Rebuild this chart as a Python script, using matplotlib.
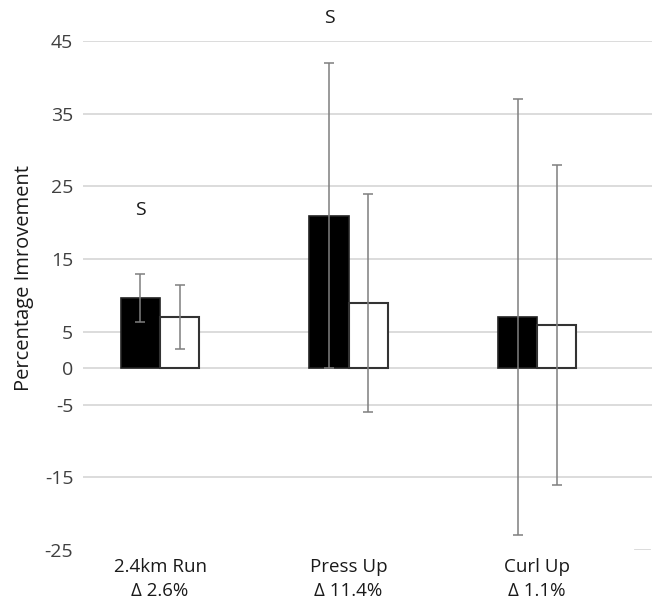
import matplotlib
matplotlib.use("Agg")
import matplotlib.pyplot as plt
import numpy as np

categories = ["2.4km Run\nΔ 2.6%", "Press Up\nΔ 11.4%", "Curl Up\nΔ 1.1%"]
black_vals = [9.6, 21.0, 7.0]
black_err = [3.3, 21.0, 30.0]
white_vals = [7.0, 9.0, 6.0]
white_err = [4.4, 15.0, 22.0]
y_ticks = [45, 35, 25, 15, 5, 0, -5, -15, -25]
sig_labels = ["S", "S", ""]
sig_heights = [21.7, 48.1, None]

plt.rcParams['font.family'] = ['Open Sans', 'DejaVu Sans']

fig = plt.figure(figsize=(6.52, 6.02), dpi=100)
ax = fig.add_axes([83/652, 52/602, 569/652, 509/602])

x = np.arange(len(categories))
w = 0.207
ax.bar(x - w/2, black_vals, w, color='black', edgecolor='#222222', linewidth=1.2, zorder=3)
ax.bar(x + w/2, white_vals, w, color='white', edgecolor='#333333', linewidth=1.5, zorder=3)
ax.errorbar(x - w/2, black_vals, yerr=black_err, fmt='none', ecolor='#7f7f7f',
            elinewidth=1.1, capsize=3.6, capthick=1.1, zorder=4)
ax.errorbar(x + w/2, white_vals, yerr=white_err, fmt='none', ecolor='#7f7f7f',
            elinewidth=1.1, capsize=3.6, capthick=1.1, zorder=4)

for xi, lab, h in zip(x, sig_labels, sig_heights):
    if lab:
        ax.text(xi - w/2, h, lab, ha='center', va='center', fontsize=14,
                color='#1a1a1a', clip_on=False)

for t in y_ticks:
    if t == -25:
        ax.axhline(t, xmin=0.970, xmax=0.996, color='#d9d9d9', linewidth=1.3, zorder=1)
    else:
        ax.axhline(t, color='#d9d9d9', linewidth=1.3, zorder=1)

ax.set_ylim(-25, 45)
ax.set_xlim(-0.4085, 2.61)
ax.set_yticks(y_ticks)
ax.set_yticklabels([str(t) for t in y_ticks], fontsize=14, color='#404040')
ax.set_xticks(x)
ax.set_xticklabels(categories, fontsize=13.5, color='#1a1a1a', linespacing=1.42)
ax.tick_params(axis='both', length=0)
ax.tick_params(axis='x', pad=5.5)
ax.tick_params(axis='y', pad=7)
for s in ax.spines.values():
    s.set_visible(False)
ax.set_ylabel("Percentage Imrovement", fontsize=14.5, color='#1a1a1a')
ax.yaxis.set_label_coords(-0.086, 0.535)

fig.savefig("out.png", dpi=100)
